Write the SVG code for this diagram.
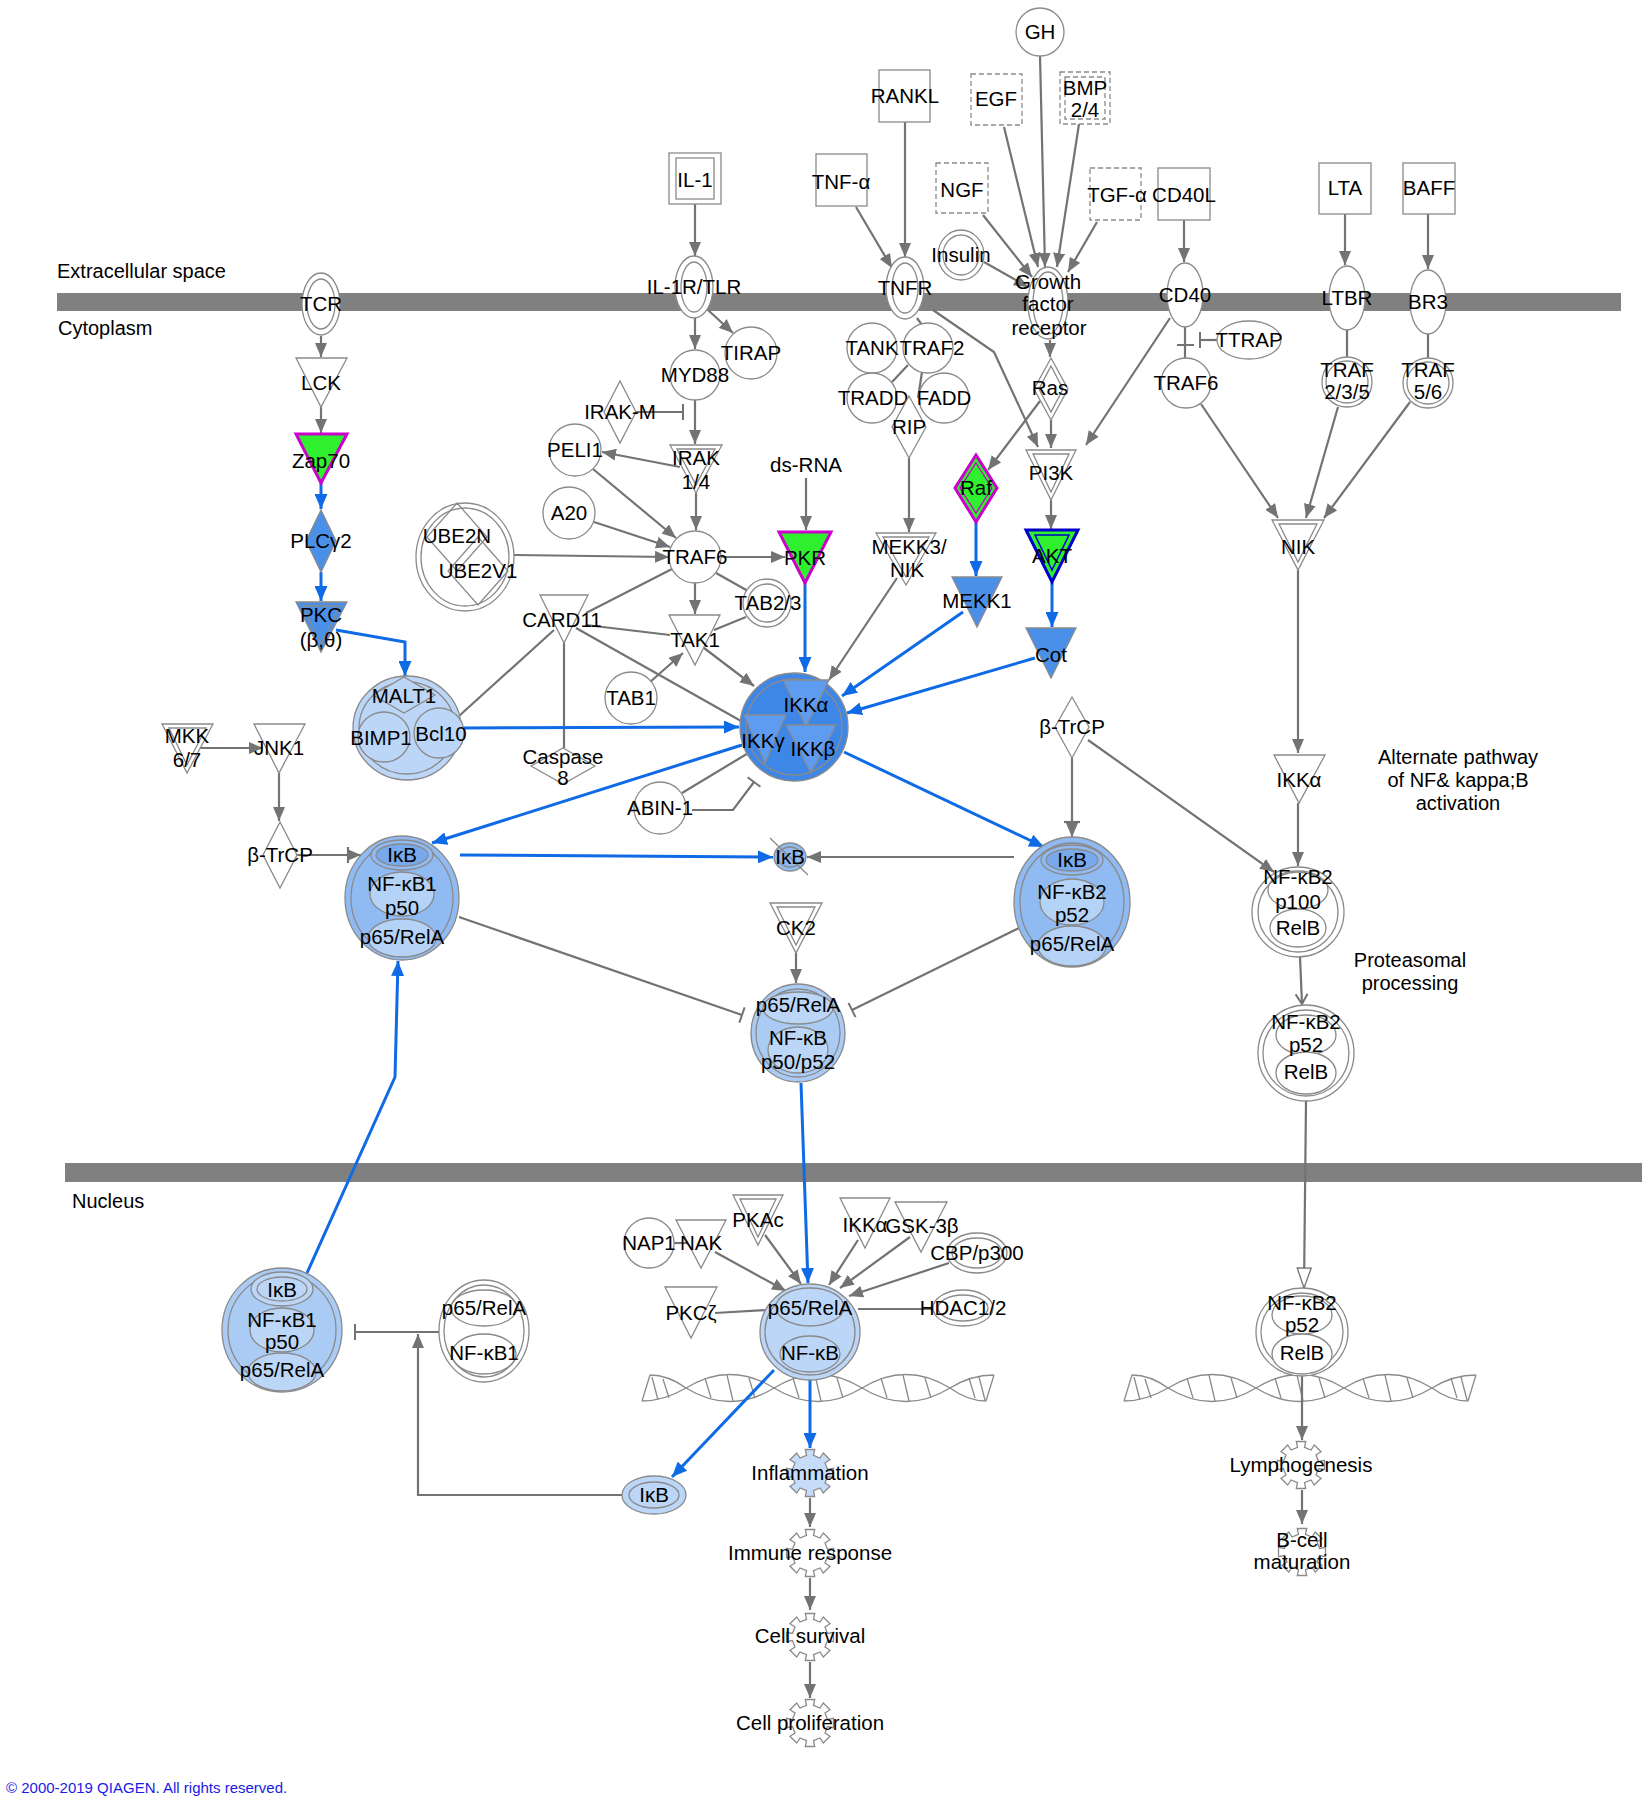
<svg xmlns="http://www.w3.org/2000/svg" width="1645" height="1800" viewBox="0 0 1645 1800">
<style>
text{font-family:"Liberation Sans",Arial,sans-serif;font-size:20.5px;fill:#000;text-anchor:middle}
.lbl{font-size:20px;text-anchor:start}
.note{font-size:20px}
.n{fill:#fff;stroke:#8a8a8a;stroke-width:1.3}
.nf{fill:none;stroke:#8a8a8a;stroke-width:1.3}
.d{stroke-dasharray:5 3}
.e{stroke:#737373;stroke-width:2.2;fill:none}
.ea{stroke:#737373;stroke-width:2.2;fill:none;marker-end:url(#ag)}
.ei{stroke:#737373;stroke-width:2.2;fill:none;marker-end:url(#bar)}
.b{stroke:#0f6ae6;stroke-width:3;fill:none;marker-end:url(#ab)}
.mem{fill:#808080}
.bm{fill:#4a90e8;stroke:#8a8a8a;stroke-width:1.3}
.bd{fill:#3f87e6;stroke:#8a8a8a;stroke-width:1.3}
.bt{fill:#5d9cf0;stroke:#8a8a8a;stroke-width:1.3}
.c1{fill:#90baf2;stroke:#8a8a8a;stroke-width:1.3}
.c2{fill:#b5d2f7;stroke:#8a8a8a;stroke-width:1.3}
.c3{fill:#77a9ec;stroke:#8a8a8a;stroke-width:1.3}
.c4{fill:#a9cbf4;stroke:#8a8a8a;stroke-width:1.3}
.c5{fill:#bcd6f7;stroke:#8a8a8a;stroke-width:1.3}
.c6{fill:#c6dcf8;stroke:#8a8a8a;stroke-width:1.3}
.gm{fill:#2ef02e;stroke:#cc00cc;stroke-width:3}
.ga{fill:#2ef02e;stroke:#0000cc;stroke-width:3}
.dna{fill:none;stroke:#8a8a8a;stroke-width:1.3}
</style>
<defs>
<marker id="ag" viewBox="0 0 14 12" refX="14" refY="6" markerWidth="14" markerHeight="12" orient="auto" markerUnits="userSpaceOnUse"><path d="M0,0L14,6L0,12z" fill="#737373"/></marker>
<marker id="ab" viewBox="0 0 15 13" refX="15" refY="6.5" markerWidth="15" markerHeight="13" orient="auto" markerUnits="userSpaceOnUse"><path d="M0,0L15,6.5L0,13z" fill="#0f6ae6"/></marker>
<marker id="bar" viewBox="-2 -9 4 18" refX="0" refY="0" markerWidth="4" markerHeight="18" orient="auto" markerUnits="userSpaceOnUse"><path d="M0,-8L0,8" stroke="#737373" stroke-width="2"/></marker>
<marker id="open" viewBox="0 0 22 16" refX="21" refY="8" markerWidth="22" markerHeight="16" orient="auto" markerUnits="userSpaceOnUse"><path d="M1,1L21,8L1,15z" fill="#fff" stroke="#737373" stroke-width="1.3"/></marker>
<marker id="chev" viewBox="0 0 12 14" refX="11" refY="7" markerWidth="12" markerHeight="14" orient="auto" markerUnits="userSpaceOnUse"><path d="M1,1L11,7L1,13" fill="none" stroke="#737373" stroke-width="2"/></marker>
<path id="gear" d="M-3.5,-17.6L-4.7,-23.5L4.7,-23.5L3.5,-17.6L10,-15L13.3,-20L20,-13.3L15,-10L17.6,-3.5L23.5,-4.7L23.5,4.7L17.6,3.5L15,10L20,13.3L13.3,20L10,15L3.5,17.6L4.7,23.5L-4.7,23.5L-3.5,17.6L-10,15L-13.3,20L-20,13.3L-15,10L-17.6,3.5L-23.5,4.7L-23.5,-4.7L-17.6,-3.5L-15,-10L-20,-13.3L-13.3,-20L-10,-15Z"/>
<g id="dna" class="dna">
<path d="M650,1375Q668,1375 686,1388Q730,1415 774,1388Q818,1361 862,1388Q906,1415 950,1388Q971,1375 994,1375"/>
<path d="M642,1401Q664,1401 686,1388Q730,1361 774,1388Q818,1415 862,1388Q906,1361 950,1388Q968,1401 986,1401"/>
<path d="M642,1401L650,1375M986,1401L994,1375M652,1377L658,1400M663,1379L669,1398M705,1378L711,1398M727,1375L733,1401M749,1378L755,1398M793,1378L799,1398M815,1375L821,1401M837,1378L843,1398M881,1378L887,1398M903,1375L909,1401M925,1378L931,1398M969,1378L975,1398M979,1377L985,1400"/>
</g>
</defs>
<rect x="0" y="0" width="1645" height="1800" fill="#fff"/>

<g id="compartments">
<rect class="mem" x="57" y="293" width="1564" height="18"/>
<rect class="mem" x="65" y="1163" width="1577" height="19"/>
<text class="lbl" x="57" y="278">Extracellular space</text>
<text class="lbl" x="58" y="335">Cytoplasm</text>
<text class="lbl" x="72" y="1208">Nucleus</text>
<text class="note" x="1458" y="764">Alternate pathway</text>
<text class="note" x="1458" y="787">of NF&amp; kappa;B</text>
<text class="note" x="1458" y="810">activation</text>
<text class="note" x="1410" y="967">Proteasomal</text>
<text class="note" x="1410" y="990">processing</text>
<use href="#dna"/>
<use href="#dna" x="482"/>
</g>

<g id="connectors">
<path class="ea" d="M695,204L695,256"/>
<path class="ea" d="M856,207L892,268"/>
<path class="ea" d="M905,122L905,257"/>
<path class="ea" d="M1040,56L1045,267"/>
<path class="ea" d="M1004,127L1038,267"/>
<path class="ea" d="M1079,124L1057,267"/>
<path class="ea" d="M983,215L1032,277"/>
<path class="ea" d="M1097,222L1068,272"/>
<path class="ea" d="M984,262L1028,287"/>
<path class="ea" d="M1184,220L1184,262"/>
<path class="ea" d="M1345,214L1345,265"/>
<path class="ea" d="M1428,214L1428,269"/>
<path class="ea" d="M695,318L695,349"/>
<path class="ea" d="M708,310L733,333"/>
<path class="ea" d="M695,400L695,444"/>
<path class="ea" d="M680,467L602,452"/>
<path class="ea" d="M696,493L696,530"/>
<path class="ea" d="M593,469L676,538"/>
<path class="ea" d="M594,522L670,547"/>
<path class="ea" d="M514,555L669,557"/>
<path class="ea" d="M721,557L785,557"/>
<path class="ea" d="M806,478L806,530"/>
<path class="ea" d="M695,583L695,614"/>
<path class="ea" d="M704,648L754,686"/>
<path class="ea" d="M650,682L683,653"/>
<path class="ea" d="M909,458L909,532"/>
<path class="ea" d="M897,578L829,680"/>
<path class="ea" d="M1050,340L1050,357"/>
<path class="ea" d="M1040,401L988,470"/>
<path class="ea" d="M1051,420L1051,448"/>
<path class="ea" d="M933,310L994,352L1038,447"/>
<path class="ea" d="M1170,318L1086,445"/>
<path class="ea" d="M1051,500L1051,529"/>
<path class="ea" d="M1201,404L1278,518"/>
<path class="ea" d="M1338,407L1306,518"/>
<path class="ea" d="M1410,402L1324,518"/>
<path class="ea" d="M1298,570L1298,753"/>
<path class="ea" d="M1298,803L1298,866"/>
<path class="ea" d="M1088,740L1274,872"/>
<path class="ea" d="M1014,857L807,857"/>
<path class="ea" d="M796,953L796,983"/>
<path class="ea" d="M715,1252L786,1291"/>
<path class="ea" d="M765,1235L801,1284"/>
<path class="ea" d="M858,1240L829,1285"/>
<path class="ea" d="M910,1237L840,1288"/>
<path class="ea" d="M949,1263L849,1296"/>
<path class="ea" d="M810,1498L810,1527"/>
<path class="ea" d="M810,1578L810,1610"/>
<path class="ea" d="M810,1662L810,1698"/>
<path class="ea" d="M1302,1376L1302,1440"/>
<path class="ea" d="M1302,1490L1302,1524"/>
<path class="ea" d="M279,773L279,821"/>
<path class="ea" d="M200,748L263,748"/>
<path class="ea" d="M321,336L321,357"/>
<path class="ea" d="M321,407L321,433"/>
<path class="ea" d="M622,1495L418,1495L418,1334"/>
<path class="ea" d="M297,855L361,855"/>
<path class="e" d="M348,847L348,863"/>
<path class="ea" d="M1072,758L1072,837"/>
<path class="e" d="M1064,822L1080,822"/>
<path class="e" d="M917,318L922,325M908,365L892,382M922,372L918,398"/>
<path class="e" d="M586,613L672,569"/>
<path class="e" d="M586,625L670,635"/>
<path class="e" d="M576,628L741,721"/>
<path class="e" d="M564,643L564,748"/>
<path class="e" d="M554,630L459,716"/>
<path class="e" d="M716,573L748,591"/>
<path class="e" d="M746,617L714,630"/>
<path class="e" d="M682,793L750,752"/>
<path class="e" d="M674,1243L690,1243"/>
<path class="e" d="M715,1313L768,1310"/>
<path class="e" d="M858,1309L933,1309"/>
<path class="e" d="M1185,327L1185,358M1177,345L1194,345"/>
<path class="e" d="M1347,330L1347,357"/>
<path class="e" d="M1428,334L1428,358"/>
<path class="e" d="M1306,1101L1304,1288" marker-end="url(#open)"/>
<path class="e" d="M1300,957L1302,1004" marker-end="url(#chev)"/>
<path class="ei" d="M636,412L683,412"/>
<path class="ei" d="M1217,340L1200,340"/>
<path class="ei" d="M459,917L742,1015"/>
<path class="ei" d="M1019,928L852,1010"/>
<path class="ei" d="M692,810L733,810L754,782"/>
<path class="ei" d="M439,1332L355,1332"/>
<path class="b" d="M321,483L321,509"/>
<path class="b" d="M321,572L321,601"/>
<path class="b" d="M336,630L405,642L405,676"/>
<path class="b" d="M463,728L739,727"/>
<path class="b" d="M805,583L805,672"/>
<path class="b" d="M976,522L976,576"/>
<path class="b" d="M1052,582L1052,627"/>
<path class="b" d="M963,612L842,696"/>
<path class="b" d="M1035,658L847,713"/>
<path class="b" d="M742,745L432,843"/>
<path class="b" d="M844,752L1044,847"/>
<path class="b" d="M460,855L773,857"/>
<path class="b" d="M801,1083L808,1283"/>
<path class="b" d="M810,1380L810,1448"/>
<path class="b" d="M774,1370L672,1477"/>
<path class="b" d="M307,1273L395,1077L398,961"/>
</g>

<g id="GH"><circle class="n" cx="1040" cy="32" r="24"/><text x="1040" y="39">GH</text></g>
<g id="RANKL"><rect class="n" x="879" y="70" width="51" height="52"/><text x="905" y="103">RANKL</text></g>
<g id="EGF"><rect class="n d" x="971" y="74" width="51" height="51"/><text x="996" y="106">EGF</text></g>
<g id="BMP"><rect class="n d" x="1060" y="72" width="50" height="52"/><rect class="nf d" x="1065" y="77" width="40" height="42"/><text x="1085" y="95">BMP</text><text x="1085" y="117">2/4</text></g>
<g id="IL-1"><rect class="n" x="669" y="153" width="52" height="51"/><rect class="nf" x="676" y="158" width="38" height="41"/><text x="695" y="187">IL-1</text></g>
<g id="TNFa"><rect class="n" x="816" y="154" width="51" height="52"/><text x="841" y="189">TNF-α</text></g>
<g id="NGF"><rect class="n d" x="936" y="163" width="52" height="50"/><text x="962" y="197">NGF</text></g>
<g id="TGFa"><rect class="n d" x="1090" y="168" width="51" height="52"/><text x="1117" y="202">TGF-α</text></g>
<g id="CD40L"><rect class="n" x="1158" y="168" width="52" height="52"/><text x="1184" y="202">CD40L</text></g>
<g id="LTA"><rect class="n" x="1319" y="163" width="52" height="51"/><text x="1345" y="195">LTA</text></g>
<g id="BAFF"><rect class="n" x="1403" y="163" width="52" height="51"/><text x="1429" y="195">BAFF</text></g>

<g id="TCR"><ellipse class="n" cx="321" cy="304" rx="19" ry="31"/><ellipse class="nf" cx="321" cy="304" rx="14" ry="25"/><text x="321" y="311">TCR</text></g>
<g id="IL1R"><ellipse class="n" cx="694" cy="287" rx="19" ry="31"/><ellipse class="nf" cx="694" cy="287" rx="13" ry="25"/><text x="694" y="294">IL-1R/TLR</text></g>
<g id="TNFR"><ellipse class="n" cx="905" cy="288" rx="19" ry="31"/><ellipse class="nf" cx="905" cy="288" rx="13" ry="25"/><text x="905" y="295">TNFR</text></g>
<g id="Insulin"><ellipse class="n" cx="961" cy="255" rx="23" ry="25"/><ellipse class="nf" cx="961" cy="255" rx="18" ry="20"/><text x="961" y="262">Insulin</text></g>
<g id="GFR"><ellipse class="n" cx="1048" cy="303" rx="20" ry="36"/><ellipse class="nf" cx="1048" cy="303" rx="15" ry="31"/><text x="1048" y="289">Growth</text><text x="1048" y="311">factor</text><text x="1049" y="335">receptor</text></g>
<g id="CD40"><ellipse class="n" cx="1185" cy="295" rx="18" ry="32"/><text x="1185" y="302">CD40</text></g>
<g id="LTBR"><ellipse class="n" cx="1347" cy="298" rx="18" ry="32"/><text x="1347" y="305">LTBR</text></g>
<g id="BR3"><ellipse class="n" cx="1428" cy="302" rx="18" ry="32"/><text x="1428" y="309">BR3</text></g>

<g id="LCK"><polygon class="n" points="296,358 347,358 321,407"/><text x="321" y="390">LCK</text></g>
<g id="Zap70"><polygon class="gm" points="296,434 347,434 321,483"/><text x="321" y="468">Zap70</text></g>
<g id="PLCg2"><polygon class="bm" points="321,510 336,541 321,572 306,541"/><text x="321" y="548">PLCγ2</text></g>
<g id="PKC"><polygon class="bm" points="296,602 347,602 321,652"/><polygon class="nf" points="303,606 340,606 321,644"/><text x="321" y="622">PKC</text><text x="321" y="647">(β,θ)</text></g>
<g id="MALT1cx"><ellipse class="c5" cx="407" cy="728" rx="54" ry="52"/><ellipse class="nf" cx="407" cy="728" rx="48" ry="46"/><polygon class="c5" points="404,677 435,695 404,713 373,695"/><ellipse class="c5" cx="384" cy="737" rx="26" ry="25"/><ellipse class="c5" cx="439" cy="733" rx="25" ry="25"/><text x="404" y="703">MALT1</text><text x="381" y="745">BIMP1</text><text x="441" y="741">Bcl10</text></g>
<g id="MKK"><polygon class="n" points="162,724 213,724 187,773"/><polygon class="nf" points="169,728 206,728 187,765"/><text x="187" y="743">MKK</text><text x="187" y="767">6/7</text></g>
<g id="JNK1"><polygon class="n" points="254,724 305,724 279,773"/><text x="279" y="755">JNK1</text></g>
<g id="bTrCP1"><polygon class="n" points="280,822 297,855 280,888 263,855"/><text x="280" y="862">β-TrCP</text></g>
<g id="NFkB1cyto"><ellipse class="c1" cx="402" cy="898" rx="57" ry="62"/><ellipse class="nf" cx="402" cy="898" rx="51" ry="56"/><ellipse class="c1" cx="402" cy="855" rx="31" ry="15"/><ellipse class="c3" cx="402" cy="855" rx="26" ry="11"/><ellipse class="c2" cx="402" cy="894" rx="32" ry="22"/><ellipse class="c2" cx="402" cy="938" rx="34" ry="19"/><text x="402" y="862">IκB</text><text x="402" y="891">NF-κB1</text><text x="402" y="915">p50</text><text x="402" y="944">p65/RelA</text></g>

<g id="MYD88"><circle class="n" cx="695" cy="375" r="25"/><text x="695" y="382">MYD88</text></g>
<g id="TIRAP"><circle class="n" cx="751" cy="353" r="26"/><text x="751" y="360">TIRAP</text></g>
<g id="IRAKM"><polygon class="n" points="620,381 636,412 620,443 604,412"/><text x="620" y="419">IRAK-M</text></g>
<g id="PELI1"><circle class="n" cx="575" cy="450" r="26"/><text x="575" y="457">PELI1</text></g>
<g id="IRAK"><polygon class="n" points="670,445 722,445 696,493"/><polygon class="nf" points="677,449 715,449 696,485"/><text x="696" y="465">IRAK</text><text x="696" y="489">1/4</text></g>
<g id="A20"><circle class="n" cx="569" cy="513" r="26"/><text x="569" y="520">A20</text></g>
<g id="UBE2"><ellipse class="n" cx="465" cy="557" rx="49" ry="54"/><ellipse class="nf" cx="465" cy="557" rx="44" ry="49"/><polygon class="nf" points="457,503 487,537 457,571 427,537"/><polygon class="nf" points="478,537 508,571 478,605 448,571"/><text x="457" y="543">UBE2N</text><text x="478" y="578">UBE2V1</text></g>
<g id="TRAF6a"><circle class="n" cx="695" cy="557" r="26"/><text x="695" y="564">TRAF6</text></g>
<g id="dsRNA"><text x="806" y="472">ds-RNA</text></g>
<g id="PKR"><polygon class="gm" points="779,532 831,532 805,583"/><text x="805" y="565">PKR</text></g>
<g id="TAB23"><circle class="n" cx="767" cy="603" r="24"/><circle class="nf" cx="767" cy="603" r="19"/><text x="768" y="610">TAB2/3</text></g>
<g id="TAK1"><polygon class="n" points="669,615 720,615 695,665"/><text x="695" y="647">TAK1</text></g>
<g id="TAB1"><circle class="n" cx="631" cy="698" r="26"/><text x="631" y="705">TAB1</text></g>
<g id="CARD11"><polygon class="n" points="540,595 588,595 564,643"/><text x="562" y="627">CARD11</text></g>
<g id="Casp8"><polygon class="n" points="563,748 595,766 563,784 531,766"/><text x="563" y="764">Caspase</text><text x="563" y="785">8</text></g>
<g id="ABIN1"><circle class="n" cx="660" cy="808" r="26"/><text x="660" y="815">ABIN-1</text></g>

<g id="TANK"><circle class="n" cx="872" cy="348" r="25"/><text x="872" y="355">TANK</text></g>
<g id="TRAF2"><circle class="n" cx="928" cy="348" r="25"/><text x="932" y="355">TRAF2</text></g>
<g id="TRADD"><circle class="n" cx="872" cy="398" r="25"/><text x="873" y="405">TRADD</text></g>
<g id="FADD"><circle class="n" cx="944" cy="398" r="25"/><text x="944" y="405">FADD</text></g>
<g id="RIP"><polygon class="n" points="909,396 926,427 909,458 892,427"/><text x="909" y="434">RIP</text></g>
<g id="MEKK3"><polygon class="n" points="876,533 936,533 906,585"/><polygon class="nf" points="883,537 929,537 906,577"/><text x="909" y="554">MEKK3/</text><text x="907" y="577">NIK</text></g>
<g id="Ras"><polygon class="n" points="1051,358 1068,389 1051,420 1034,389"/><polygon class="nf" points="1051,366 1063,389 1051,412 1039,389"/><text x="1050" y="395">Ras</text></g>
<g id="Raf"><polygon class="gm" points="976,455 997,488 976,522 955,488"/><polygon fill="none" stroke="#cc00cc" stroke-width="1.3" points="976,463 992,488 976,513 960,488"/><text x="976" y="495">Raf</text></g>
<g id="PI3K"><polygon class="n" points="1026,450 1076,450 1051,500"/><polygon class="nf" points="1033,454 1069,454 1051,492"/><text x="1051" y="480">PI3K</text></g>
<g id="AKT"><polygon class="ga" points="1026,530 1078,530 1052,582"/><polygon fill="none" stroke="#0000cc" stroke-width="1.5" points="1035,535 1069,535 1052,570"/><text x="1052" y="563">AKT</text></g>
<g id="MEKK1"><polygon class="bm" points="952,577 1002,577 977,627"/><text x="977" y="608">MEKK1</text></g>
<g id="Cot"><polygon class="bm" points="1026,628 1076,628 1051,678"/><text x="1051" y="662">Cot</text></g>

<g id="IKKcx"><circle class="bd" cx="794" cy="727" r="54"/><circle class="nf" cx="794" cy="727" r="48"/><polygon class="bt" points="783,680 829,680 806,727"/><polygon class="bt" points="744,715 786,715 765,763"/><polygon class="bt" points="786,725 836,725 811,773"/><text x="806" y="712">IKKα</text><text x="763" y="748">IKKγ</text><text x="813" y="756">IKKβ</text></g>
<g id="IkBsmall"><ellipse class="c1" cx="790" cy="857" rx="16" ry="14"/><ellipse class="nf" cx="790" cy="857" rx="12" ry="10"/><path d="M770,838L808,875" stroke="#8a8a8a" stroke-width="1.3"/><text x="790" y="864">IκB</text></g>
<g id="bTrCP2"><polygon class="n" points="1072,697 1089,727 1072,758 1055,727"/><text x="1072" y="734">β-TrCP</text></g>
<g id="NFkB2cyto"><ellipse class="c1" cx="1072" cy="902" rx="58" ry="65"/><ellipse class="nf" cx="1072" cy="902" rx="52" ry="59"/><ellipse class="c1" cx="1072" cy="860" rx="31" ry="15"/><ellipse class="c3" cx="1072" cy="860" rx="26" ry="11"/><ellipse class="c2" cx="1072" cy="902" rx="32" ry="23"/><ellipse class="c2" cx="1072" cy="946" rx="34" ry="20"/><text x="1072" y="867">IκB</text><text x="1072" y="899">NF-κB2</text><text x="1072" y="922">p52</text><text x="1072" y="951">p65/RelA</text></g>
<g id="CK2"><polygon class="n" points="770,903 822,903 796,953"/><polygon class="nf" points="777,907 815,907 796,945"/><text x="796" y="935">CK2</text></g>
<g id="p65cyto"><ellipse class="c4" cx="798" cy="1033" rx="47" ry="49"/><ellipse class="nf" cx="798" cy="1033" rx="42" ry="44"/><ellipse class="c5" cx="798" cy="1008" rx="35" ry="16"/><ellipse class="c5" cx="798" cy="1050" rx="30" ry="23"/><text x="798" y="1012">p65/RelA</text><text x="798" y="1045">NF-κB</text><text x="798" y="1069">p50/p52</text></g>

<g id="TRAF6b"><circle class="n" cx="1186" cy="383" r="25"/><text x="1186" y="390">TRAF6</text></g>
<g id="TTRAP"><ellipse class="n" cx="1249" cy="340" rx="32" ry="19"/><text x="1249" y="347">TTRAP</text></g>
<g id="TRAF235"><circle class="n" cx="1347" cy="382" r="25"/><circle class="nf" cx="1347" cy="382" r="21"/><text x="1347" y="377">TRAF</text><text x="1347" y="399">2/3/5</text></g>
<g id="TRAF56"><circle class="n" cx="1428" cy="383" r="25"/><circle class="nf" cx="1428" cy="383" r="21"/><text x="1428" y="377">TRAF</text><text x="1428" y="399">5/6</text></g>
<g id="NIK"><polygon class="n" points="1272,520 1324,520 1298,570"/><polygon class="nf" points="1279,524 1317,524 1298,562"/><text x="1298" y="554">NIK</text></g>
<g id="IKKa2"><polygon class="n" points="1274,755 1325,755 1299,803"/><text x="1299" y="787">IKKα</text></g>
<g id="p100"><ellipse class="n" cx="1298" cy="912" rx="46" ry="45"/><ellipse class="nf" cx="1298" cy="912" rx="40" ry="40"/><ellipse class="nf" cx="1298" cy="890" rx="30" ry="19"/><ellipse class="n" cx="1298" cy="928" rx="28" ry="19"/><text x="1298" y="884">NF-κB2</text><text x="1298" y="909">p100</text><text x="1298" y="935">RelB</text></g>
<g id="p52cyto"><ellipse class="n" cx="1306" cy="1053" rx="48" ry="48"/><ellipse class="nf" cx="1306" cy="1053" rx="43" ry="43"/><ellipse class="nf" cx="1306" cy="1035" rx="30" ry="20"/><ellipse class="n" cx="1306" cy="1073" rx="30" ry="21"/><text x="1306" y="1029">NF-κB2</text><text x="1306" y="1052">p52</text><text x="1306" y="1079">RelB</text></g>

<g id="NAP1"><circle class="n" cx="649" cy="1243" r="25"/><text x="649" y="1250">NAP1</text></g>
<g id="NAK"><polygon class="n" points="676,1220 726,1220 701,1268"/><text x="701" y="1250">NAK</text></g>
<g id="PKAc"><polygon class="n" points="733,1195 783,1195 758,1245"/><polygon class="nf" points="740,1199 776,1199 758,1237"/><text x="758" y="1227">PKAc</text></g>
<g id="IKKa3"><polygon class="n" points="840,1198 890,1198 865,1248"/><text x="865" y="1232">IKKα</text></g>
<g id="GSK"><polygon class="n" points="895,1202 947,1202 921,1252"/><text x="922" y="1233">GSK-3β</text></g>
<g id="CBP"><ellipse class="n" cx="977" cy="1253" rx="30" ry="20"/><ellipse class="nf" cx="977" cy="1253" rx="25" ry="15"/><text x="977" y="1260">CBP/p300</text></g>
<g id="HDAC"><ellipse class="n" cx="963" cy="1308" rx="30" ry="18"/><ellipse class="nf" cx="963" cy="1308" rx="25" ry="13"/><text x="963" y="1315">HDAC1/2</text></g>
<g id="PKCz"><polygon class="n" points="665,1287 717,1287 691,1338"/><text x="691" y="1320">PKCζ</text></g>
<g id="p65nuc"><ellipse class="c5" cx="810" cy="1332" rx="50" ry="48"/><ellipse class="nf" cx="810" cy="1332" rx="45" ry="43"/><ellipse class="c5" cx="810" cy="1307" rx="34" ry="19"/><ellipse class="c5" cx="810" cy="1354" rx="30" ry="18"/><text x="810" y="1315">p65/RelA</text><text x="810" y="1360">NF-κB</text></g>
<g id="p52nuc"><ellipse class="n" cx="1302" cy="1332" rx="46" ry="44"/><ellipse class="nf" cx="1302" cy="1332" rx="41" ry="39"/><ellipse class="nf" cx="1302" cy="1315" rx="30" ry="19"/><ellipse class="n" cx="1302" cy="1354" rx="30" ry="20"/><text x="1302" y="1310">NF-κB2</text><text x="1302" y="1332">p52</text><text x="1302" y="1360">RelB</text></g>
<g id="NFkB1nuc"><ellipse class="c4" cx="282" cy="1330" rx="60" ry="62"/><ellipse class="nf" cx="282" cy="1330" rx="54" ry="56"/><ellipse class="c5" cx="282" cy="1289" rx="31" ry="17"/><ellipse class="nf" cx="282" cy="1289" rx="25" ry="12"/><ellipse class="c5" cx="282" cy="1330" rx="32" ry="22"/><ellipse class="c5" cx="282" cy="1372" rx="34" ry="19"/><text x="282" y="1297">IκB</text><text x="282" y="1327">NF-κB1</text><text x="282" y="1349">p50</text><text x="282" y="1377">p65/RelA</text></g>
<g id="p65NFkB1"><ellipse class="n" cx="484" cy="1331" rx="45" ry="51"/><ellipse class="nf" cx="484" cy="1331" rx="40" ry="46"/><ellipse class="nf" cx="484" cy="1308" rx="33" ry="18"/><ellipse class="nf" cx="484" cy="1354" rx="32" ry="20"/><text x="484" y="1315">p65/RelA</text><text x="484" y="1360">NF-κB1</text></g>
<g id="IkBnuc"><ellipse class="c5" cx="654" cy="1495" rx="32" ry="19"/><ellipse class="nf" cx="654" cy="1495" rx="25" ry="13"/><text x="654" y="1502">IκB</text></g>

<g id="Inflammation"><use href="#gear" x="810" y="1473" class="c6"/><text x="810" y="1480">Inflammation</text></g>
<g id="Immune"><use href="#gear" x="810" y="1553" class="n"/><text x="810" y="1560">Immune response</text></g>
<g id="Survival"><use href="#gear" x="810" y="1637" class="n"/><text x="810" y="1643">Cell survival</text></g>
<g id="Prolif"><use href="#gear" x="810" y="1723" class="n"/><text x="810" y="1730">Cell proliferation</text></g>
<g id="Lymph"><use href="#gear" x="1301" y="1465" class="n"/><text x="1301" y="1472">Lymphogenesis</text></g>
<g id="Bcell"><use href="#gear" x="1302" y="1552" class="n"/><text x="1302" y="1547">B-cell</text><text x="1302" y="1569">maturation</text></g>

<text x="6" y="1793" style="font-size:15px;text-anchor:start;fill:#1a1ae6">© 2000-2019 QIAGEN. All rights reserved.</text>
</svg>
